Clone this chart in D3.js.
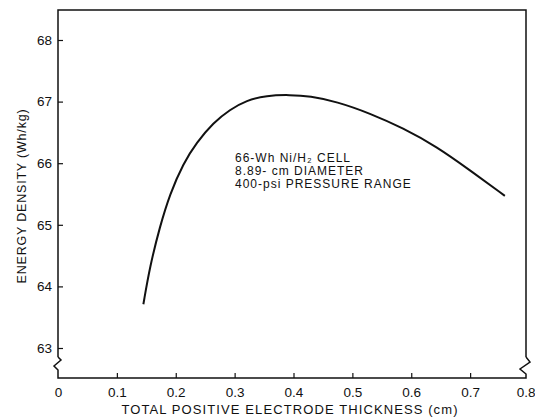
<!DOCTYPE html>
<html><head><meta charset="utf-8">
<script src="https://cdn.jsdelivr.net/npm/d3@7"></script>
<style>body{margin:0;background:#fff}svg{display:block}text{font-family:"Liberation Sans",Arial,sans-serif;fill:#111}</style>
</head><body><svg id="c" width="535" height="420"></svg>
<script>
const thickness = [0.145,0.156,0.173,0.190,0.213,0.235,0.264,0.292,0.320,0.354,0.394,0.428,0.473,0.530,0.586,0.643,0.699,0.759];
const energy    = [63.71,64.32,64.97,65.50,66.00,66.33,66.66,66.87,67.02,67.10,67.11,67.09,67.00,66.81,66.57,66.27,65.89,65.47];
const xTicks = [0,0.1,0.2,0.3,0.4,0.5,0.6,0.7,0.8];
const xTickLabels = ["0","0.1","0.2","0.3","0.4","0.5","0.6","0.7","0.8"];
const yTicks = [63,64,65,66,67,68];
const notes = ["66-Wh Ni/H\u2082 CELL","8.89- cm DIAMETER","400-psi PRESSURE RANGE"];

const svg = d3.select("#c");
const x = d3.scaleLinear().domain([0,0.8]).range([58,529]);
const y = d3.scaleLinear().domain([63,68]).range([348,40]);
const L = 58, R = 526, T = 10, B = 378;
const ink = "#111";

const g = svg.append("g").attr("fill","none").attr("stroke",ink).attr("stroke-width",1.5);
g.append("path").attr("d",`M${L},357 L${L},${T} L${R},${T} L${R},357`);
g.append("path").attr("d",`M${L},357 L${L+3},360 L${L-4},366 L${L},370 L${L},${B} L${R},${B} L${R},374 L${R-6},369 L${R+4},362 L${R},357`);

const yAxis = d3.axisLeft(y).tickValues(yTicks).tickSize(-5).tickPadding(6).tickFormat(d3.format("d"));
const ya = svg.append("g").attr("transform",`translate(${L},0)`).call(yAxis);
ya.select(".domain").remove();
ya.selectAll("line").attr("stroke",ink).attr("stroke-width",1.2);
ya.selectAll("text").attr("font-size",13.5).attr("fill",ink);

const xAxis = d3.axisBottom(x).tickValues(xTicks).tickSize(-5).tickPadding(9).tickFormat((d,i)=>xTickLabels[i]);
const xa = svg.append("g").attr("transform",`translate(0,${B})`).call(xAxis);
xa.select(".domain").remove();
xa.selectAll("line").attr("stroke",ink).attr("stroke-width",1.2).filter(d=>d===0||d===0.8).remove();
xa.selectAll("text").attr("font-size",13.5).attr("fill",ink);
xa.selectAll("text").filter(d=>d===0.8).attr("text-anchor","end").attr("dx",6);

const line = d3.line().x((d,i)=>x(thickness[i])).y(d=>y(d)).curve(d3.curveBasis);
svg.append("path").datum(energy).attr("d",line).attr("fill","none").attr("stroke",ink).attr("stroke-width",2);

svg.append("text").attr("x",290).attr("y",414).attr("text-anchor","middle").attr("font-size",13).attr("letter-spacing",1.1).text("TOTAL POSITIVE ELECTRODE THICKNESS (cm)");
svg.append("text").attr("transform","translate(26,196) rotate(-90)").attr("text-anchor","middle").attr("font-size",12.5).attr("letter-spacing",0.8).text("ENERGY DENSITY (Wh/kg)");

notes.forEach((t,i)=>{
  svg.append("text").attr("x",235).attr("y",162+i*13).attr("font-size",12).attr("letter-spacing",1).text(t);
});
</script></body></html>
